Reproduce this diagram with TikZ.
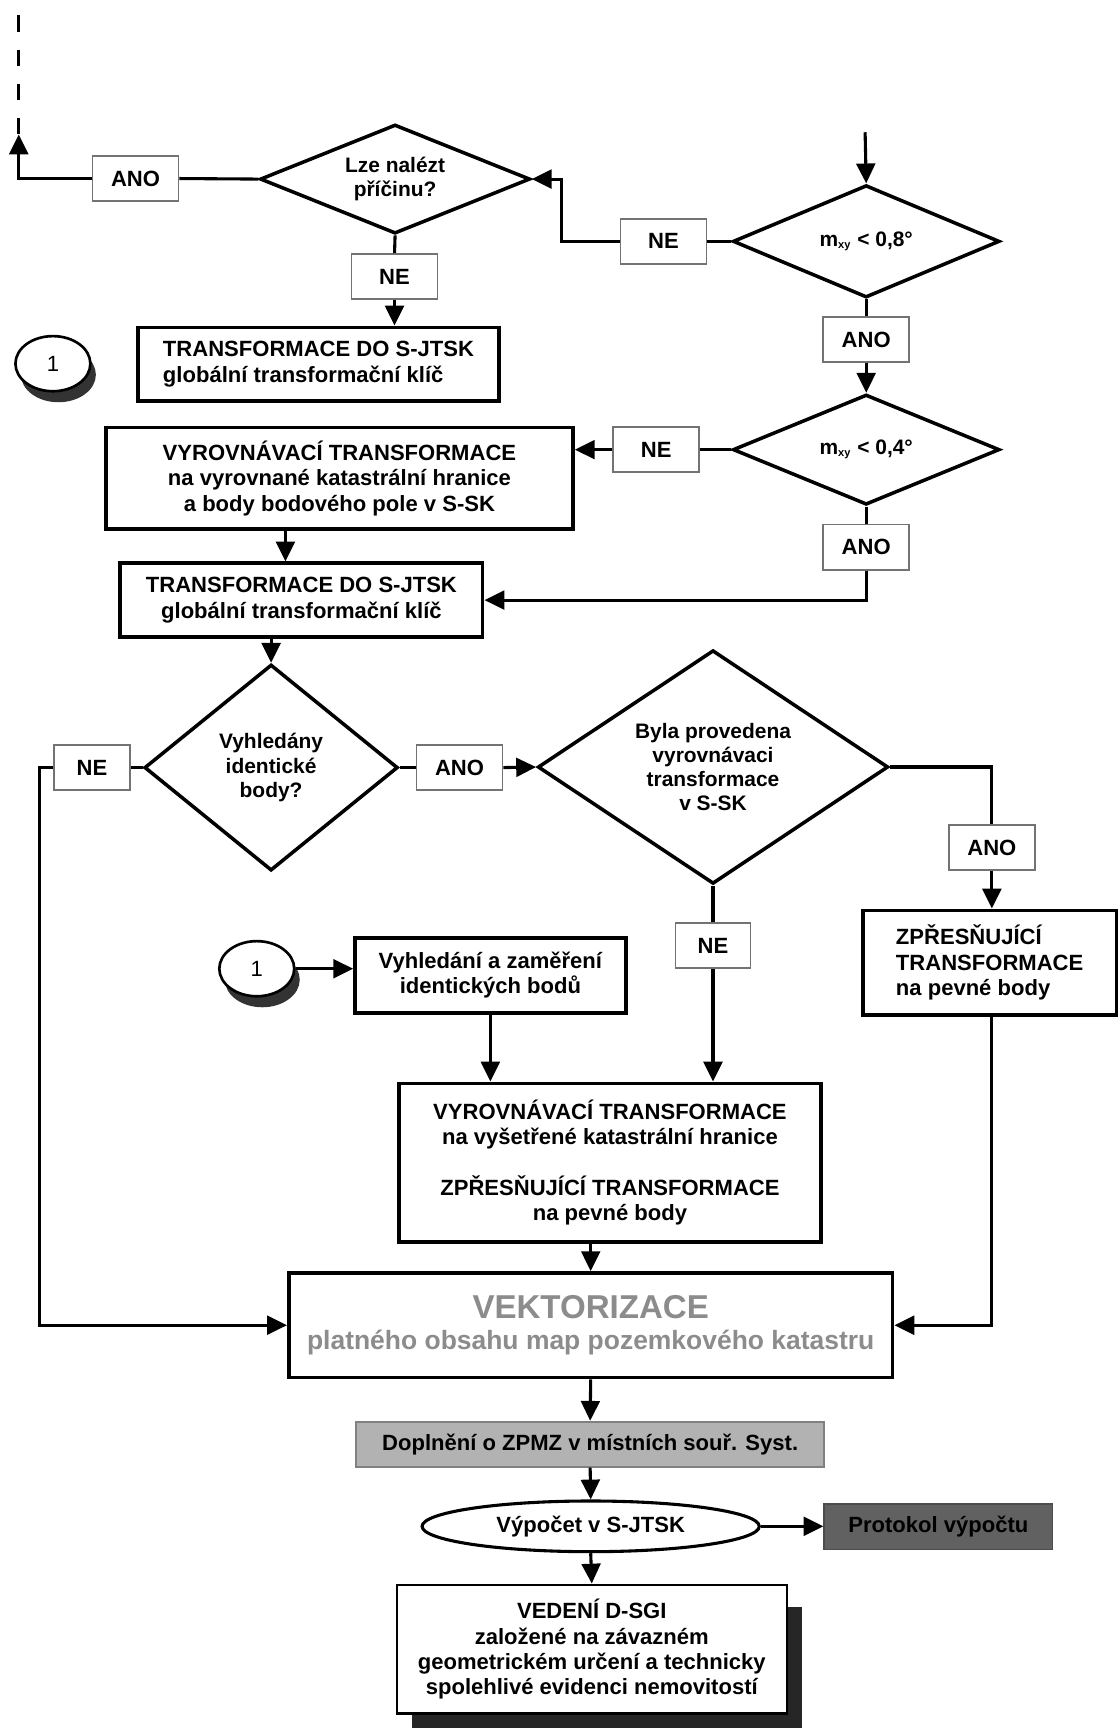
\documentclass[tikz,border=0pt]{standalone}
\usepackage{fontspec}
\setmainfont{Liberation Sans}
\usetikzlibrary{positioning,calc,shapes.geometric,arrows.meta,shadows}

\begin{document}
\begin{tikzpicture}[x=0.5pt,y=-0.5pt,font=\bfseries\fontsize{10}{11.5}\selectfont,
  line width=1.4pt,
  arr/.style={-{Triangle[length=9pt,width=8.5pt]}},
  lab/.style={draw=black!55,line width=0.8pt,fill=white,minimum width=39pt,
    minimum height=20.5pt,inner sep=0pt},
  box/.style={draw=black,line width=1.6pt,fill=white,align=center,inner sep=2pt},
  dia/.style={draw=black,line width=1.6pt,shape=diamond,aspect=2,inner sep=0pt,
    align=center,font=\bfseries\fontsize{9.5}{11}\selectfont},
  coin/.style={ellipse,draw,line width=1.2pt,fill=white,minimum width=34pt,
    minimum height=25pt,inner sep=0pt,font=\fontsize{10}{11}\selectfont,
    drop shadow={shadow xshift=2.5pt,shadow yshift=-5pt,opacity=1,fill=black!80}}]
\useasboundingbox (0,0) rectangle (1014,1568);

%% top part
\node[lab] (ano1) at (123,162) {ANO};
\node[dia,minimum width=122.5pt,minimum height=49.5pt] (lze) at (358.5,162.5)
  {Lze nalézt\\příčinu?};
\node[lab] (ne1) at (358,251) {NE};
\node[box,align=left,minimum width=164pt,minimum height=33.5pt] (tr1) at (289,330.5)
  {TRANSFORMACE DO S-JTSK\\globální transformační klíč};
\node[coin] (c1) at (48,330) {1};
\coordinate (back) at (17,122);
\coordinate (up) at (17,12);
\coordinate (in) at (785,120);

\node[dia,minimum width=121pt,minimum height=51pt] (m8) at (786,219)
  {m\textsubscript{\tiny xy} < 0,8°};
\node[lab] (ne2) at (602,219) {NE};
\node[lab] (ano2) at (786,308) {ANO};
\node[dia,minimum width=121pt,minimum height=50pt] (m4) at (786,408)
  {m\textsubscript{\tiny xy} < 0,4°};
\node[lab] (ne3) at (595.5,408) {NE};
\node[box,minimum width=212pt,minimum height=46pt] (vyr1) at (308,434)
  {VYROVNÁVACÍ TRANSFORMACE\\na vyrovnané katastrální hranice\\a body bodového pole v S-SK};
\node[lab] (ano3) at (786,496.5) {ANO};
\node[box,minimum width=164.5pt,minimum height=33.5pt] (tr2) at (273.5,544.5)
  {TRANSFORMACE DO S-JTSK\\globální transformační klíč};

%% middle part
\node[dia,aspect=1.2,minimum width=115pt,minimum height=93.5pt] (vyh) at (246,696.5)
  {Vyhledány\\identické\\body?};
\node[lab,minimum width=34.5pt] (ne4) at (83.5,696.5) {NE};
\node[lab] (ano4) at (417,696.5) {ANO};
\node[dia,aspect=1.5,minimum width=159pt,minimum height=106pt] (byla) at (647,696)
  {Byla provedena\\vyrovnávaci\\transformace\\v S-SK};
\node[lab] (ano5) at (900,769) {ANO};
\node[box,align=left,minimum width=115pt,minimum height=47.5pt] (zpr) at (898,873.5)
  {ZPŘESŇUJÍCÍ\\TRANSFORMACE\\na pevné body};
\node[lab,minimum width=34pt] (ne5) at (647,858) {NE};
\node[coin] (c2) at (233,879) {1};
\node[box,minimum width=123pt,minimum height=34pt] (vyhl) at (445,885)
  {Vyhledání a zaměření\\identických bodů};
\node[box,minimum width=191.5pt,minimum height=72pt] (vyr2) at (553.5,1055)
  {VYROVNÁVACÍ TRANSFORMACE\\na vyšetřené katastrální hranice\\[11.5pt]
   ZPŘESŇUJÍCÍ TRANSFORMACE\\na pevné body};

%% bottom part
\node[box,text=black!45,minimum width=274pt,minimum height=47.5pt] (vek) at (536,1202.5)
  {{\fontsize{15}{17}\selectfont VEKTORIZACE}\\[3pt]
   {\fontsize{12}{14}\selectfont platného obsahu map pozemkového katastru}};
\node[draw=black!50,line width=0.8pt,fill=black!30,minimum width=212.5pt,
  minimum height=20.5pt,inner sep=0pt] (dopl) at (535.5,1310.5)
  {Doplnění o ZPMZ v místních souř. Syst.};
\node[ellipse,draw,line width=1.4pt,minimum width=153pt,minimum height=23pt,
  inner sep=0pt] (vyp) at (536,1385) {Výpočet v S-JTSK};
\node[draw=black!70,line width=0.8pt,fill=black!62,minimum width=103.5pt,
  minimum height=20.5pt,inner sep=0pt] (prot) at (851.5,1385.5) {Protokol výpočtu};
\node[box,line width=1.1pt,minimum width=177pt,minimum height=58.5pt,
  drop shadow={shadow xshift=7pt,shadow yshift=-10pt,opacity=1,fill=black!85}]
  (ved) at (537,1496.5)
  {VEDENÍ D-SGI\\založené na závazném\\geometrickém určení a technicky\\spolehlivé evidenci nemovitostí};

%% connectors
\draw (ano1.east) -- (lze.west);
\draw[arr] (ano1.west) -| (back);
\draw[line width=1.6pt,dash pattern=on 7.5pt off 8pt] (back) -- (up);
\draw (lze.south) -- (ne1.north);
\draw[arr] (ne1.south) -- (ne1.south |- tr1.north);
\draw[arr] (in) -- (m8.north);
\draw (m8.west) -- (ne2.east);
\draw[arr] (ne2.west) -- ++(-53,0) |- (lze.east);
\draw (m8.south) -- (ano2.north);
\draw[arr] (ano2.south) -- (m4.north);
\draw (m4.west) -- (ne3.east);
\draw[arr] (ne3.west) -- (ne3.west -| vyr1.east);
\draw (m4.south) -- (ano3.north);
\draw[arr] (ano3.south) |- (tr2.east);
\draw[arr] ([xshift=-24.5pt]vyr1.south) -- ([xshift=-24.5pt]vyr1.south |- tr2.north);
\draw[arr] (tr2.south -| vyh.north) -- (vyh.north);
\draw (vyh.west) -- (ne4.east);
\draw[arr] (ne4.west) -- ++(-12,0) |- (vek.west);
\draw (vyh.east) -- (ano4.west);
\draw[arr] (ano4.east) -- (byla.west);
\draw (byla.east) -| (ano5.north);
\draw[arr] (ano5.south) -- (ano5.south |- zpr.north);
\draw[arr] (zpr.south -| ano5.south) |- (vek.east);
\draw (byla.south) -- (ne5.north);
\draw[arr] (ne5.south) -- (ne5.south |- vyr2.north);
\draw[arr] (c2.east) -- (c2.east -| vyhl.west);
\draw[arr] (vyhl.south) -- (vyhl.south |- vyr2.north);
\draw[arr] (vyr2.south -| vek.north) -- (vek.north);
\draw[arr] (vek.south) -- (dopl.north);
\draw[arr] (dopl.south) -- (vyp.north);
\draw[arr] (vyp.east) -- (vyp.east -| prot.west);
\draw[arr] (vyp.south) -- (ved.north);
\end{tikzpicture}
\end{document}
